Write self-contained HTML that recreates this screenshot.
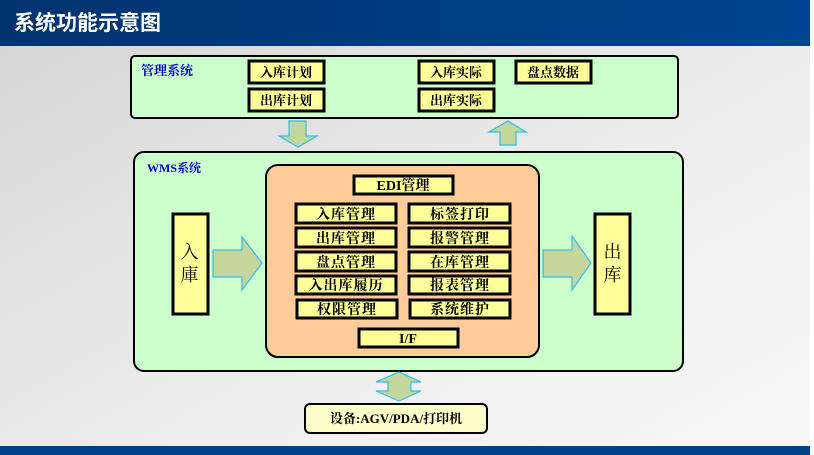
<!DOCTYPE html>
<html><head><meta charset="utf-8"><style>
html,body{margin:0;padding:0;width:814px;height:455px;overflow:hidden;background:#fff}
svg{display:block}
text{font-family:"Liberation Serif","Noto Serif CJK SC","Noto Sans CJK SC",serif;font-weight:bold}
</style></head><body>
<svg width="814" height="455" viewBox="0 0 814 455" xmlns="http://www.w3.org/2000/svg">
<defs>
<linearGradient id="bg" x1="0" y1="0" x2="1" y2="1">
<stop offset="0" stop-color="#d4d4d4"/><stop offset="0.6" stop-color="#eeeeee"/><stop offset="1" stop-color="#f8f8f8"/>
</linearGradient>
<linearGradient id="hd" x1="0" y1="0" x2="1" y2="0">
<stop offset="0" stop-color="#00336e"/><stop offset="1" stop-color="#004590"/>
</linearGradient>
</defs>
<rect x="0" y="0" width="810" height="455" fill="url(#bg)"/>
<rect x="0" y="0" width="810" height="46" fill="url(#hd)"/>
<rect x="0" y="446" width="810" height="9" fill="#004288"/>
<text x="14" y="30" font-size="21" fill="#fff" style="font-family:'Noto Sans CJK SC',sans-serif">系统功能示意图</text>

<rect x="131" y="56" width="547" height="62" rx="4" fill="#ccffcc" stroke="#000" stroke-width="2"/>
<text x="141" y="75" font-size="13" fill="#0000cc">管理系统</text>
<g fill="#ffff99" stroke="#000" stroke-width="3">
<rect x="249" y="61" width="75" height="22"/>
<rect x="249" y="89" width="75" height="22"/>
<rect x="419" y="61" width="75" height="22"/>
<rect x="419" y="89" width="75" height="22"/>
<rect x="516" y="61" width="75" height="22"/>
</g>
<g font-size="13" text-anchor="middle" fill="#000">
<text x="286" y="77">入库计划</text>
<text x="286" y="105">出库计划</text>
<text x="456" y="77">入库实际</text>
<text x="456" y="105">出库实际</text>
<text x="553" y="77">盘点数据</text>
</g>

<g fill="#c4d69b" stroke="#33bbee" stroke-width="1.2">
<polygon points="289,121 306,121 306,136 317,136 298,147 279,136 289,136"/>
<polygon points="508,121 526,132 516,132 516,145 500,145 500,132 489,132"/>
</g>

<rect x="134" y="152" width="549" height="219" rx="10" fill="#ccffcc" stroke="#000" stroke-width="2"/>
<text x="147" y="172" font-size="12" fill="#0000cc">WMS系统</text>

<rect x="266" y="165" width="273" height="192" rx="12" fill="#ffcc99" stroke="#000" stroke-width="2"/>

<g fill="#ffff99" stroke="#000" stroke-width="3">
<rect x="354" y="176" width="99" height="18"/>
<rect x="296" y="204" width="100" height="19"/>
<rect x="296" y="228" width="100" height="19"/>
<rect x="296" y="252" width="100" height="19"/>
<rect x="296" y="276" width="100" height="18"/>
<rect x="297" y="300" width="100" height="18"/>
<rect x="409" y="204" width="101" height="19"/>
<rect x="409" y="228" width="101" height="19"/>
<rect x="409" y="252" width="101" height="19"/>
<rect x="409" y="276" width="101" height="18"/>
<rect x="410" y="300" width="100" height="18"/>
<rect x="359" y="329" width="99" height="18"/>
<rect x="173" y="214" width="35" height="100"/>
<rect x="595" y="214" width="35" height="100"/>
</g>
<g font-size="14" text-anchor="middle" fill="#000" letter-spacing="1">
<text x="403" y="190" letter-spacing="0">EDI管理</text>
<text x="346" y="219">入库管理</text>
<text x="346" y="243">出库管理</text>
<text x="346" y="267">盘点管理</text>
<text x="346" y="290">入出库履历</text>
<text x="347" y="314">权限管理</text>
<text x="460" y="219">标签打印</text>
<text x="460" y="243">报警管理</text>
<text x="460" y="267">在库管理</text>
<text x="460" y="290">报表管理</text>
<text x="460" y="314">系统维护</text>
<text x="408" y="343" letter-spacing="0">I/F</text>
<text x="190" y="258" font-size="18" style="font-weight:normal">入</text>
<text x="190" y="281" font-size="18" style="font-weight:normal">庫</text>
<text x="613" y="258" font-size="18" style="font-weight:normal">出</text>
<text x="613" y="281" font-size="18" style="font-weight:normal">库</text>
</g>

<g fill="#c4d69b" stroke="#33bbee" stroke-width="1.2">
<polygon points="213,250 242,250 242,237 262,263 242,290 242,277 213,277"/>
<polygon points="543,250 572,250 572,236 591,263 572,290 572,277 543,277"/>
<polygon points="399,372 421,382 411,382 411,391 421,391 399,401 376,391 388,391 388,382 376,382"/>
</g>

<rect x="305" y="404" width="182" height="29" rx="5" fill="#ffffcc" stroke="#000" stroke-width="2"/>
<text x="396" y="423" font-size="13" text-anchor="middle" fill="#000">设备:AGV/PDA/打印机</text>
</svg>
</body></html>
